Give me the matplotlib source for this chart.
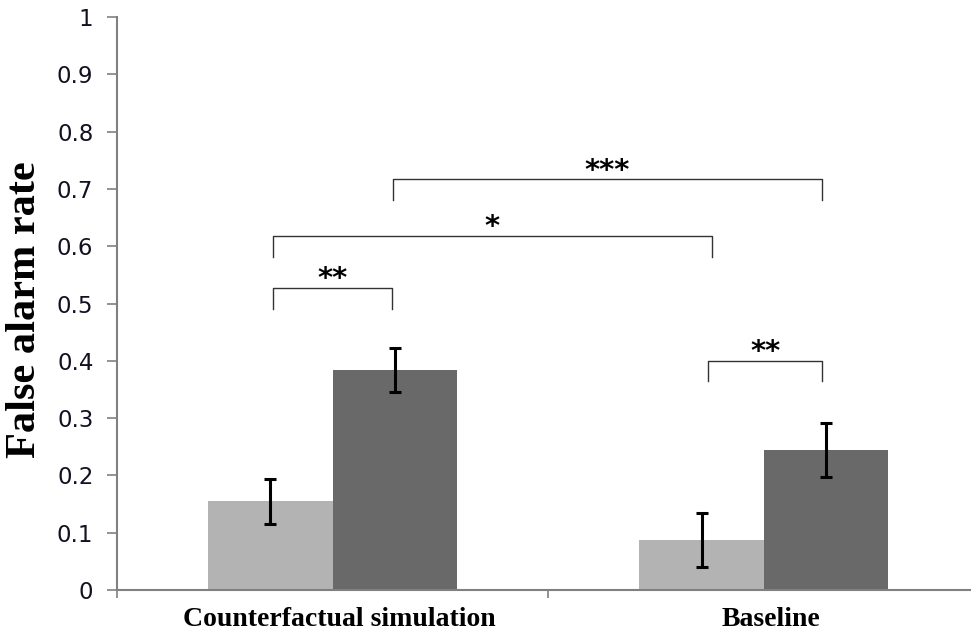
import numpy as np
import matplotlib.pyplot as plt
from matplotlib.transforms import ScaledTranslation

categories = ["Counterfactual simulation", "Baseline"]
light_vals = [0.155, 0.087]
light_err = [0.039, 0.047]
dark_vals = [0.384, 0.245]
dark_err = [0.039, 0.047]

# significance brackets: (left bar, right bar, height, label)
# bars numbered 0..3 = light1, dark1, light2, dark2
brackets = [
    (1, 3, 0.717, "***"),
    (0, 2, 0.618, "*"),
    (0, 1, 0.527, "**"),
    (2, 3, 0.400, "**"),
]

fig = plt.figure(figsize=(9.71, 6.32), dpi=100)
ax = fig.add_axes([0.1205, 0.0665, 0.8795, 0.9065])

x = np.arange(len(categories))
w = 0.288
ax.bar(x - w / 2, light_vals, w, color="#b3b3b3")
ax.bar(x + w / 2, dark_vals, w, color="#696969")
ax.errorbar(x - w / 2, light_vals, yerr=light_err, fmt="none", ecolor="black",
            elinewidth=2.2, capsize=4, capthick=2.2)
ax.errorbar(x + w / 2, dark_vals, yerr=dark_err, fmt="none", ecolor="black",
            elinewidth=2.2, capsize=4, capthick=2.2)

centers = [x[0] - w / 2, x[0] + w / 2, x[1] - w / 2, x[1] + w / 2]
nudge = {(0, 2): (0.006, 0.024), (2, 3): (0.015, -0.008), (1, 3): (-0.004, -0.008)}
for i, j, h, lab in brackets:
    dl, dr = nudge.get((i, j), (0.006, -0.006))
    x0, x1 = centers[i] + dl, centers[j] + dr
    ax.plot([x0, x0, x1, x1], [h - 0.036, h, h, h - 0.036],
            color="#333333", lw=1.0)
    ax.text((x0 + x1) / 2, h + 0.001, lab, ha="center", va="baseline",
            fontsize=21, fontweight="bold", color="black")

ax.set_xticks([-0.5, 0.5, 1.5])
ax.set_xticklabels([])
ax.set_xticks(x, minor=True)
ax.set_xticklabels(categories, minor=True, fontfamily="Liberation Serif",
                   fontweight="bold", fontsize=20)
ax.tick_params(axis="x", which="major", direction="out", length=6, width=1.2,
               color="#808080")
ax.tick_params(axis="x", which="minor", length=0, pad=12)
# category names sit a little right of the group centre
shift = ScaledTranslation(0.07, 0, fig.dpi_scale_trans)
for lbl in ax.get_xticklabels(minor=True):
    lbl.set_transform(lbl.get_transform() + shift)
ax.set_xlim(-0.5, 1.481)

ax.set_yticks(np.arange(0, 1.01, 0.1))
ax.set_yticklabels(["0"] + [f"{v:.1f}" for v in np.arange(0.1, 0.95, 0.1)] + ["1"])
ax.tick_params(axis="y", direction="out", length=7, width=1.2, color="#808080",
               labelsize=16.5, labelcolor="#111122", pad=10)
ax.set_ylim(0, 1)

for s in ["top", "right"]:
    ax.spines[s].set_visible(False)
for s in ["left", "bottom"]:
    ax.spines[s].set_color("#808080")
    ax.spines[s].set_linewidth(1.5)

ax.set_ylabel("False alarm rate", fontfamily="Liberation Serif",
              fontweight="bold", fontsize=30.5)
ax.yaxis.set_label_coords(-0.086, 0.489)

fig.savefig("out.png", dpi=100)
